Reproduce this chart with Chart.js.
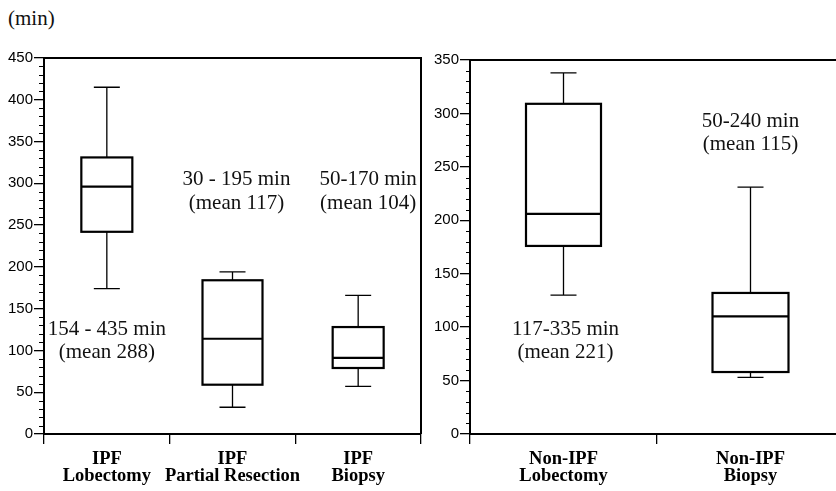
<!DOCTYPE html>
<html>
<head>
<meta charset="utf-8">
<script src="https://cdn.jsdelivr.net/npm/chart.js@4.4.1/dist/chart.umd.min.js"></script>
<style>
  html, body { margin:0; padding:0; width:836px; height:491px; overflow:hidden; background:#fff; }
  canvas { position:absolute; top:0; }
  #unit { position:absolute; left:8px; top:6px; font-family:"Liberation Serif", serif; font-size:21px; color:#111; }
</style>
</head>
<body>
<div id="unit">(min)</div>
<canvas id="left" width="836" height="491" style="left:0"></canvas>
<canvas id="right" width="470" height="491" style="left:430px"></canvas>
<script>
// ---- data ----
const ipfCategories = [["IPF","Lobectomy"],["IPF","Partial Resection"],["IPF","Biopsy"]];
const ipfWhiskerLow  = [174, 32, 57];
const ipfQ1          = [242, 59, 79];
const ipfMedian      = [296, 114, 91];
const ipfQ3          = [331, 184, 128];
const ipfWhiskerHigh = [415, 194, 166];
const ipfYTicks = [0, 50, 100, 150, 200, 250, 300, 350, 400, 450];

const nonCategories = [["Non-IPF","Lobectomy"],["Non-IPF","Biopsy"]];
const nonWhiskerLow  = [130, 53];
const nonQ1          = [176, 58];
const nonMedian      = [206, 110];
const nonQ3          = [309, 132];
const nonWhiskerHigh = [338, 231];
const nonYTicks = [0, 50, 100, 150, 200, 250, 300, 350];

const ipfNotes = [
  {lines:["154 - 435 min","(mean 288)"], cat:0, dx:0,  y:[124.5, 97]},
  {lines:["30 - 195 min","(mean 117)"],  cat:1, dx:4,  y:[305, 276]},
  {lines:["50-170 min","(mean 104)"],    cat:2, dx:10, y:[305, 276]}
];
const nonNotes = [
  {lines:["117-335 min","(mean 221)"], cat:0, dx:2, y:[98, 76]},
  {lines:["50-240 min","(mean 115)"],  cat:1, dx:0, y:[292, 271]}
];

// ---- styles ----
const ipfBoxWidths = [51, 60, 51];
const nonBoxWidths = [75, 76];
const capWidth = 26;

function boxPlugin(stats, boxWidths, notes, opts) {
  return {
    id: 'boxes',
    afterDraw(chart) {
      const ctx = chart.ctx, xs = chart.scales.x, ys = chart.scales.y, a = chart.chartArea;
      ctx.save();
      ctx.strokeStyle = '#000';
      // minor ticks
      ctx.lineWidth = 1;
      for (let v = 0; v <= ys.max; v += 10) {
        if (v % 50 === 0) continue;
        const y = Math.round(ys.getPixelForValue(v)) + 0.5;
        ctx.beginPath(); ctx.moveTo(a.left - opts.minorLeft, y); ctx.lineTo(a.left + opts.minorRight, y); ctx.stroke();
      }
      // frame
      ctx.lineWidth = 2;
      ctx.beginPath();
      ctx.moveTo(a.left, a.top);
      ctx.lineTo(a.right, a.top);
      if (opts.rightBorder) ctx.lineTo(a.right, a.bottom);
      ctx.stroke();
      // boxes
      for (let i = 0; i < stats.med.length; i++) {
        const cx = xs.getPixelForValue(i);
        const w = boxWidths[i];
        const yLo = ys.getPixelForValue(stats.lo[i]);
        const yQ1 = ys.getPixelForValue(stats.q1[i]);
        const yMd = ys.getPixelForValue(stats.med[i]);
        const yQ3 = ys.getPixelForValue(stats.q3[i]);
        const yHi = ys.getPixelForValue(stats.hi[i]);
        ctx.lineWidth = 1.3;
        ctx.beginPath();
        ctx.moveTo(cx, yHi); ctx.lineTo(cx, yQ3);
        ctx.moveTo(cx, yQ1); ctx.lineTo(cx, yLo);
        ctx.moveTo(cx - capWidth/2, yHi); ctx.lineTo(cx + capWidth/2, yHi);
        ctx.moveTo(cx - capWidth/2, yLo); ctx.lineTo(cx + capWidth/2, yLo);
        ctx.stroke();
        ctx.lineWidth = 2.2;
        ctx.strokeRect(cx - w/2, yQ3, w, yQ1 - yQ3);
        ctx.beginPath(); ctx.moveTo(cx - w/2, yMd); ctx.lineTo(cx + w/2, yMd); ctx.stroke();
      }
      // notes
      ctx.fillStyle = '#111';
      ctx.font = '21px "Liberation Serif", serif';
      ctx.textAlign = 'center';
      ctx.textBaseline = 'middle';
      notes.forEach(n => {
        const x = xs.getPixelForValue(n.cat) + n.dx;
        n.lines.forEach((t, k) => ctx.fillText(t, x, ys.getPixelForValue(n.y[k])));
      });
      ctx.restore();
    }
  };
}

function makeChart(id, labels, yTicks, stats, boxWidths, notes, pad, yWidth, opts) {
  const yMax = yTicks[yTicks.length - 1];
  return new Chart(document.getElementById(id), {
    type: 'bar',
    data: { labels: labels, datasets: [] },
    options: {
      responsive: false, animation: false,
      layout: { padding: pad },
      plugins: { legend: { display: false }, tooltip: { enabled: false } },
      scales: {
        x: {
          type: 'category', offset: true,
          grid: { offset: true, drawOnChartArea: false, tickLength: 10, color: '#000', lineWidth: 1.3 },
          border: { color: '#000', width: 2 },
          ticks: { color: '#000', padding: 7, maxRotation: 0, autoSkip: false,
                   font: { family: '"Liberation Serif", serif', size: 18.5, weight: 'bold', lineHeight: 0.9 } },
          afterFit(s) { s.height = 57; }
        },
        y: {
          min: 0, max: yMax,
          afterBuildTicks(s) { s.ticks = yTicks.map(v => ({ value: v })); },
          grid: { drawOnChartArea: false, tickLength: 10, color: '#000', lineWidth: 1.3 },
          border: { color: '#000', width: 2 },
          ticks: { color: '#000', padding: 1, font: { family: '"Liberation Sans", Arial, sans-serif', size: 15 } },
          afterFit(s) { s.width = yWidth; }
        }
      }
    },
    plugins: [boxPlugin(stats, boxWidths, notes, opts)]
  });
}

makeChart('left', ipfCategories, ipfYTicks,
  { lo: ipfWhiskerLow, q1: ipfQ1, med: ipfMedian, q3: ipfQ3, hi: ipfWhiskerHigh },
  ipfBoxWidths, ipfNotes, { left: 0, top: 58, right: 415, bottom: 0 }, 44,
  { rightBorder: true, minorLeft: 5, minorRight: 0 });

makeChart('right', nonCategories, nonYTicks,
  { lo: nonWhiskerLow, q1: nonQ1, med: nonMedian, q3: nonQ3, hi: nonWhiskerHigh },
  nonBoxWidths, nonNotes, { left: 0, top: 60, right: 56, bottom: 0 }, 40,
  { rightBorder: false, minorLeft: 4, minorRight: 1 });
</script>
</body>
</html>
